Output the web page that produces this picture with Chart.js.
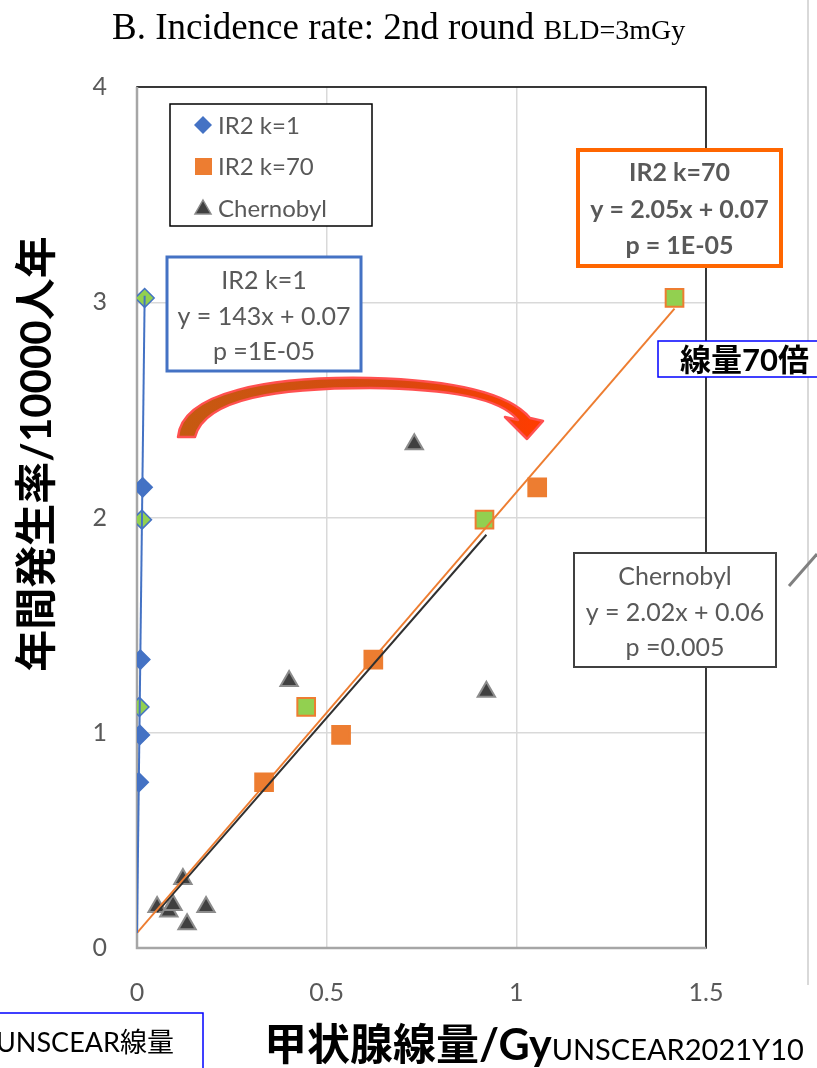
<!DOCTYPE html>
<html><head><meta charset="utf-8">
<script src="https://cdn.jsdelivr.net/npm/chart.js@4.4.1/dist/chart.umd.min.js"></script>
<style>html,body{margin:0;padding:0;background:#fff;overflow:hidden}</style>
</head><body>
<canvas id="c" width="817" height="1068"></canvas>
<script>
// ---------- data ----------
const k1X  = [0.0202, 0.0151, 0.0131, 0.0089, 0.0064, 0.0077, 0.0048];
const k1Y  = [3.02, 2.14, 1.99, 1.34, 1.12, 0.99, 0.77];
const k70X = [1.417, 1.055, 0.916, 0.623, 0.446, 0.538, 0.335];
const k70Y = [3.02, 2.14, 1.99, 1.34, 1.12, 0.99, 0.77];
const greenFlag = [true, false, true, false, true, false, false];
const chernX = [0.053, 0.084, 0.095, 0.121, 0.132, 0.182, 0.401, 0.731, 0.921];
const chernY = [0.19, 0.17, 0.20, 0.32, 0.11, 0.19, 1.24, 2.34, 1.19];
const trendK1X  = [0, 0.0202];
const trendK1Y  = [0.07, 3.03];
const trendK70X = [0, 1.417];
const trendK70Y = [0.07, 2.97];
const trendChX  = [0.053, 0.921];
const trendChY  = [0.167, 1.92];
const xTicks = [0, 0.5, 1, 1.5];
const xTickLabels = ['0', '0.5', '1', '1.5'];
const yTicks = [0, 1, 2, 3, 4];
const yTickLabels = ['0', '1', '2', '3', '4'];
const legendLabels = ['IR2 k=1', 'IR2 k=70', 'Chernobyl'];
const titleMain = 'B. Incidence rate: 2nd round';
const titleSub = 'BLD=3mGy';
const yTitle = '年間発生率/10000人年';
const xTitleBold = '甲状腺線量/Gy';
const xTitleReg = 'UNSCEAR2021Y10';
const boxK1 = ['IR2 k=1', 'y = 143x + 0.07', 'p =1E-05'];
const boxK70 = ['IR2 k=70', 'y = 2.05x + 0.07', 'p = 1E-05'];
const boxCh = ['Chernobyl', 'y = 2.02x + 0.06', 'p =0.005'];
const note70 = '線量70倍';
const noteUnscear = 'UNSCEAR線量';

// ---------- styles ----------
const BLUE = '#4472C4', ORANGE = '#ED7D31', GREEN = '#92D050', DARK = '#404040', GRAYTXT = '#595959';
const LAT = "Lato, 'Noto Sans CJK JP', sans-serif";

const pts = (xs, ys) => xs.map((x, i) => ({x: x, y: ys[i]}));

const deco = {
  id: 'deco',
  beforeDatasetsDraw(chart) {
    const c = chart.ctx, a = chart.chartArea;
    c.save();
    c.strokeStyle = '#000'; c.lineWidth = 1.5;
    c.strokeRect(a.left, a.top, a.right - a.left, a.bottom - a.top);
    c.strokeStyle = '#A6A6A6'; c.lineWidth = 2.5;
    c.beginPath(); c.moveTo(a.left, a.top); c.lineTo(a.left, a.bottom); c.lineTo(a.right, a.bottom); c.stroke();
    c.restore();
  },
  afterDatasetsDraw(chart) {
    const c = chart.ctx;
    c.save();
    const g = c.createLinearGradient(180, 0, 540, 0);
    g.addColorStop(0, '#C55A11'); g.addColorStop(0.6, '#D9480F'); g.addColorStop(1, '#FF3C00');
    c.beginPath();
    c.moveTo(178, 437);
    c.bezierCurveTo(182, 392, 270, 376, 370, 378);
    c.bezierCurveTo(450, 380, 508, 392, 530, 418);
    c.lineTo(543, 421); c.lineTo(527, 439); c.lineTo(505, 417); c.lineTo(518, 420);
    c.bezierCurveTo(500, 398, 450, 389, 370, 388);
    c.bezierCurveTo(280, 388, 205, 398, 195, 437);
    c.closePath();
    c.fillStyle = g; c.fill();
    c.strokeStyle = '#FF5050'; c.lineWidth = 2.5; c.lineJoin = 'round'; c.stroke();
    c.restore();
  },
  afterDraw(chart) {
    const c = chart.ctx;
    c.save();
    c.strokeStyle = '#D9D9D9'; c.lineWidth = 2;
    c.beginPath(); c.moveTo(808, 0); c.lineTo(808, 985); c.stroke();
    c.strokeStyle = '#808080'; c.lineWidth = 3;
    c.beginPath(); c.moveTo(789, 586); c.lineTo(817, 554); c.stroke();

    // title
    c.fillStyle = '#000'; c.textBaseline = 'alphabetic'; c.textAlign = 'left';
    c.font = "37px 'Liberation Serif', 'Times New Roman', serif";
    c.fillText(titleMain, 112, 39);
    const w = c.measureText(titleMain + ' ').width;
    c.font = "28px 'Liberation Serif', 'Times New Roman', serif";
    c.fillText(titleSub, 112 + w, 39);

    // y title
    c.save();
    c.translate(37, 454); c.rotate(-Math.PI / 2);
    c.font = "bold 42px " + LAT; c.textAlign = 'center'; c.textBaseline = 'middle';
    c.fillText(yTitle, 0, 0);
    c.restore();

    // x title
    c.textAlign = 'left'; c.textBaseline = 'alphabetic';
    c.font = "bold 43px " + LAT;
    c.fillText(xTitleBold, 264, 1060);
    const wb = c.measureText(xTitleBold).width;
    c.font = "29px " + LAT;
    c.fillText(xTitleReg, 264 + wb, 1060);

    // legend
    c.fillStyle = '#fff'; c.fillRect(170, 104, 202, 122);
    c.strokeStyle = '#000'; c.lineWidth = 1.5; c.strokeRect(170, 104, 202, 122);
    const ly = [125, 166, 208];
    c.fillStyle = BLUE; c.beginPath();
    c.moveTo(203, ly[0] - 9); c.lineTo(212, ly[0]); c.lineTo(203, ly[0] + 9); c.lineTo(194, ly[0]); c.closePath(); c.fill();
    c.fillStyle = ORANGE; c.fillRect(195, ly[1] - 8, 17, 17);
    c.fillStyle = DARK; c.strokeStyle = '#8C8C8C'; c.lineWidth = 1.5; c.beginPath();
    c.moveTo(203, ly[2] - 8); c.lineTo(211, ly[2] + 6); c.lineTo(195, ly[2] + 6); c.closePath(); c.fill(); c.stroke();
    c.fillStyle = GRAYTXT; c.font = "24px " + LAT; c.textBaseline = 'middle';
    legendLabels.forEach((t, i) => c.fillText(t, 218, ly[i] + 1));

    function box(x, y, w, h, border, lw, lines, bold, ys) {
      c.fillStyle = '#fff'; c.fillRect(x, y, w, h);
      c.strokeStyle = border; c.lineWidth = lw; c.strokeRect(x, y, w, h);
      c.fillStyle = GRAYTXT; c.textAlign = 'center'; c.textBaseline = 'middle';
      c.font = (bold ? 'bold ' : '') + '25px ' + LAT;
      lines.forEach((t, i) => c.fillText(t, x + w / 2, ys[i]));
    }
    box(167, 257, 194, 114, BLUE, 3, boxK1, false, [281, 317, 352]);
    box(578, 150, 203, 116, '#FF6600', 4, boxK70, true, [173, 210, 246]);
    box(574, 553, 202, 114, DARK, 2, boxCh, false, [577, 613, 648]);

    // 線量70倍
    c.fillStyle = '#fff'; c.fillRect(658, 341, 170, 36);
    c.strokeStyle = '#0000FF'; c.lineWidth = 1.5; c.strokeRect(658, 341, 170, 36);
    c.fillStyle = '#000'; c.textAlign = 'left'; c.textBaseline = 'middle';
    c.font = "bold 31px " + LAT;
    c.fillText(note70, 680, 361);

    // UNSCEAR線量
    c.fillStyle = '#fff'; c.fillRect(-2, 1013, 205, 60);
    c.strokeStyle = '#0000FF'; c.lineWidth = 1.5; c.strokeRect(-2, 1013, 205, 60);
    c.fillStyle = '#000'; c.font = "27px " + LAT;
    c.fillText(noteUnscear, -4, 1043);
    c.restore();
  }
};

new Chart(document.getElementById('c'), {
  type: 'scatter',
  data: {
    datasets: [
      {label: 'k1 trend', data: pts(trendK1X, trendK1Y), showLine: true, borderColor: BLUE, borderWidth: 2, pointRadius: 0, order: 0},
      {label: 'k70 trend', data: pts(trendK70X, trendK70Y), showLine: true, borderColor: ORANGE, borderWidth: 2, pointRadius: 0, order: 0},
      {label: 'ch trend', data: pts(trendChX, trendChY), showLine: true, borderColor: '#303030', borderWidth: 2, pointRadius: 0, order: 0},
      {label: legendLabels[0], data: pts(k1X, k1Y), pointStyle: 'rectRot', pointRadius: 9.5,
       backgroundColor: greenFlag.map(g => g ? GREEN : BLUE), borderColor: BLUE, borderWidth: 1.5, order: 1},
      {label: legendLabels[1], data: pts(k70X, k70Y), pointStyle: 'rect', pointRadius: 12.5,
       backgroundColor: greenFlag.map(g => g ? GREEN : ORANGE), borderColor: ORANGE, borderWidth: 2, order: 1},
      {label: legendLabels[2], data: pts(chernX, chernY), pointStyle: 'triangle', pointRadius: 10,
       backgroundColor: DARK, borderColor: '#8C8C8C', borderWidth: 2, order: 2}
    ]
  },
  options: {
    responsive: false, animation: false, devicePixelRatio: 1,
    layout: {padding: {top: 87, right: 111, left: 0, bottom: 0}},
    plugins: {legend: {display: false}, tooltip: {enabled: false}},
    scales: {
      x: {
        type: 'linear', min: 0, max: 1.5,
        afterBuildTicks: s => { s.ticks = xTicks.map(v => ({value: v})); },
        ticks: {callback: v => { const i = xTicks.indexOf(v); return i >= 0 ? xTickLabels[i] : ''; },
                font: {family: LAT, size: 25}, color: GRAYTXT, padding: 30, maxRotation: 0},
        grid: {color: '#D9D9D9', lineWidth: 1.5, drawTicks: false},
        border: {display: false},
        afterFit: s => { s.height = 120; }
      },
      y: {
        type: 'linear', min: 0, max: 4,
        afterBuildTicks: s => { s.ticks = yTicks.map(v => ({value: v})); },
        ticks: {callback: v => { const i = yTicks.indexOf(v); return i >= 0 ? yTickLabels[i] : ''; },
                font: {family: LAT, size: 25}, color: GRAYTXT, padding: 30},
        grid: {color: '#D9D9D9', lineWidth: 1.5, drawTicks: false},
        border: {display: false},
        afterFit: s => { s.width = 137; }
      }
    }
  },
  plugins: [deco]
});
</script>
</body></html>
